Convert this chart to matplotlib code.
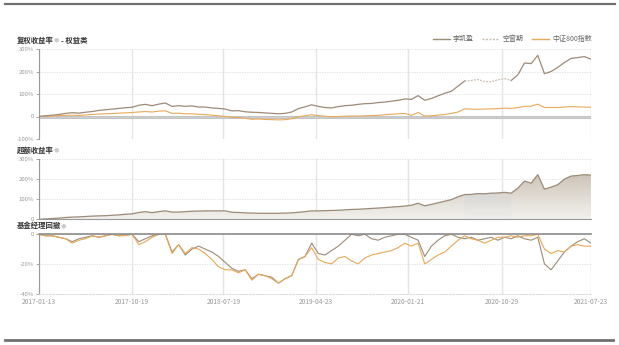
import matplotlib.pyplot as plt
import matplotlib.dates as mdates
import numpy as np
import pandas as pd
from matplotlib.colors import LinearSegmentedColormap
from matplotlib.lines import Line2D

plt.rcParams['font.family'] = ['Noto Sans CJK SC', 'DejaVu Sans']

# sample dates, evenly spaced over the manager's tenure
dates = pd.date_range('2017-01-13', '2021-07-23', periods=84)

# cumulative return of the manager (%)
manager_ret = [0, 3, 6, 9, 14, 17, 15, 19, 22, 27, 30, 33, 36, 39, 41, 50, 54, 48, 55, 60,
               45, 48, 45, 47, 42, 42, 38, 36, 33, 25, 26, 21, 19, 18, 16, 14, 12, 14, 20, 35,
               43, 52, 45, 40, 38, 44, 48, 50, 54, 57, 58, 62, 64, 68, 72, 78, 76, 93, 72, 80,
               92, 103, 112, 135, 158, 160, 165, 155, 155, 163, 168, 160, 185, 238, 235, 272, 190, 200, 218, 240,
               258, 262, 266, 255]
# CSI 800 cumulative return (%)
index_ret = [0, 1, 2, 4, 5, 6, 5, 7, 9, 11, 12, 13, 15, 16, 18, 20, 22, 20, 24, 25,
             14, 15, 12, 12, 10, 8, 6, 3, 0, -4, -5, -8, -12, -11, -13, -14, -15, -14, -10, -1,
             3, 8, 4, 1, -1, 0, 1, 2, 2, 3, 4, 5, 8, 10, 12, 14, 5, 18, 2, 3,
             6, 9, 14, 20, 34, 33, 32, 33, 34, 35, 37, 36, 40, 45, 46, 55, 40, 40, 40, 42,
             44, 43, 42, 41]
# excess return (%)
excess_ret = [0, 2, 4, 6, 9, 11, 12, 14, 16, 17, 18, 20, 22, 25, 27, 34, 38, 33, 38, 42,
              36, 36, 38, 40, 41, 42, 42, 42, 42, 35, 34, 32, 31, 30, 30, 30, 30, 31, 32, 35,
              38, 42, 42, 43, 44, 45, 47, 49, 50, 52, 54, 56, 58, 61, 63, 66, 70, 80, 67, 74,
              82, 90, 98, 112, 123, 124, 128, 127, 130, 131, 134, 130, 155, 190, 180, 222, 150, 160, 172, 200,
              215, 218, 222, 220]
# drawdowns (%)
manager_dd = [0, -1, -1, -2, -3, -5, -3, -2, -1, -2, -1, 0, -1, 0, 0, -5, -3, -1, 0, 0,
              -12, -7, -14, -10, -8, -10, -12, -15, -19, -23, -25, -24, -30, -27, -28, -29, -33, -30, -28, -17,
              -15, -6, -13, -14, -11, -8, -4, 0, -1, 0, -3, -4, -2, -1, 0, 0, -2, -4, -15, -8,
              -4, -1, 0, -2, -3, -2, -4, -3, -2, -4, -2, -3, -1, -3, -4, -2, -20, -24, -18, -12,
              -8, -5, -3, -6]
index_dd = [0, -1, -1, -2, -3, -6, -4, -3, -1, -2, -1, 0, -1, -1, 0, -7, -5, -2, 0, 0,
            -13, -7, -13, -9, -10, -13, -17, -22, -24, -24, -26, -24, -31, -27, -28, -30, -33, -30, -28, -17,
            -15, -9, -17, -19, -20, -16, -15, -18, -20, -16, -14, -13, -12, -11, -9, -6, -8, -6, -20, -17,
            -14, -12, -8, -4, -1, -3, -4, -6, -4, -2, -2, -1, -2, -1, -1, 0, -10, -13, -11, -12,
            -8, -7, -8, -8]

gap_start, gap_end = pd.Timestamp('2020-06-25'), pd.Timestamp('2020-11-30')
xtick_dates = ['2017-01-13', '2017-10-19', '2018-07-19', '2019-04-23',
               '2020-01-21', '2020-10-29', '2021-07-23']

c_mgr = '#9c8b78'
c_gap = '#c9c0b4'
c_idx = '#e8a85a'
W, H = 619, 345

fig = plt.figure(figsize=(W / 100, H / 100), dpi=100)


def px_axes(left, top, right, bottom):
    return fig.add_axes([left / W, 1 - bottom / H, (right - left) / W, (bottom - top) / H])


def style(ax, ticks, labels, lim):
    ax.set_xlim(dates[0], dates[-1])
    ax.set_ylim(*lim)
    ax.set_yticks(ticks)
    ax.set_yticklabels(labels)
    for s in ['top', 'right', 'bottom']:
        ax.spines[s].set_visible(False)
    ax.spines['left'].set_color('#999999')
    ax.spines['left'].set_linewidth(0.8)
    ax.grid(axis='y', linestyle=(0, (1.5, 1.5)), color='#dddddd', linewidth=0.6)
    for d in xtick_dates:
        ax.axvline(pd.Timestamp(d), color='#e4e4e4', linewidth=1.0, zorder=0)
    ax.set_xticks([pd.Timestamp(d) for d in xtick_dates])
    ax.tick_params(axis='y', labelsize=4.3, colors='#999999', length=2.5, width=0.6, pad=1)
    ax.tick_params(axis='x', length=0, labelbottom=False)


manager_ret = np.array(manager_ret, dtype=float)
in_gap = (dates >= gap_start) & (dates <= gap_end)
inner_gap = (dates > dates[in_gap][0]) & (dates < dates[in_gap][-1])
solid = np.where(inner_gap, np.nan, manager_ret)
dotted = np.where(in_gap, manager_ret, np.nan)

# panel 1: cumulative returns
ax1 = px_axes(39, 49, 591, 139)
style(ax1, [-100, 0, 100, 200, 300], ['-100%', '0', '100%', '200%', '300%'], (-100, 300))
ax1.axhline(0, color='#c4c4c4', linewidth=2.2, zorder=1)
ax1.plot(dates, index_ret, color=c_idx, linewidth=0.8, zorder=3)
ax1.plot(dates, solid, color=c_mgr, linewidth=0.9, zorder=4)
ax1.plot(dates, dotted, color=c_gap, linewidth=0.9, linestyle=(0, (1.5, 1)), zorder=4)

# panel 2: excess return with gradient area
ax2 = px_axes(39, 159, 591, 219.3)
style(ax2, [0, 100, 200, 300], ['0', '100%', '200%', '300%'], (0, 300))
ax2.spines['bottom'].set_visible(True)
ax2.spines['bottom'].set_color('#999999')
ax2.spines['bottom'].set_linewidth(0.8)
x0, x1 = mdates.date2num(dates[0]), mdates.date2num(dates[-1])
top = max(excess_ret)
grad = np.linspace(1, 0, 256).reshape(-1, 1)
cmap = LinearSegmentedColormap.from_list('area', ['#f3f1ee', '#cdc4b8'])
poly = ax2.fill_between(dates, excess_ret, 0, color='none', linewidth=0)
im = ax2.imshow(grad, extent=[x0, x1, 0, top], aspect='auto', cmap=cmap, zorder=2, origin='upper')
im.set_clip_path(poly.get_paths()[0], transform=ax2.transData)
# darker band under the vacancy period
cmap_gap = LinearSegmentedColormap.from_list('gap', ['#eeeeec', '#c8c4bf'])
gap_poly = ax2.fill_between(dates[in_gap], np.array(excess_ret)[in_gap], 0, color='none', linewidth=0)
im2 = ax2.imshow(grad, extent=[x0, x1, 0, top], aspect='auto', cmap=cmap_gap, zorder=2.5, origin='upper')
im2.set_clip_path(gap_poly.get_paths()[0], transform=ax2.transData)
ax2.plot(dates, excess_ret, color=c_mgr, linewidth=0.9, zorder=4)

# panel 3: drawdowns
ax3 = px_axes(39, 234.3, 591, 293.5)
style(ax3, [-40, -20, 0], ['-40%', '-20%', '0'], (-40, 0))
ax3.axhline(0, color='#8c8c8c', linewidth=1.2, zorder=5, clip_on=False)
ax3.plot(dates, manager_dd, color=c_mgr, linewidth=0.8, zorder=3)
ax3.plot(dates, index_dd, color=c_idx, linewidth=0.8, zorder=4)
ax3.spines['bottom'].set_visible(True)
ax3.spines['bottom'].set_linestyle((0, (1.5, 1.5)))
ax3.spines['bottom'].set_color('#dddddd')
ax3.tick_params(axis='x', labelbottom=True, labelsize=4.8, colors='#999999', pad=3.5)
ax3.set_xticklabels(xtick_dates)

# panel titles
title_kw = dict(fontsize=5.3, fontweight='bold', color='#333333', va='center')
icon_kw = dict(fontsize=4.5, color='#cccccc', va='center', family='DejaVu Sans')
fig.text(17 / W, 1 - 40 / H, '复权收益率', **title_kw)
fig.text(54 / W, 1 - 40 / H, '●', **icon_kw)
fig.text(61 / W, 1 - 40 / H, '- 权益类', **title_kw)
fig.text(17 / W, 1 - 150 / H, '超额收益率', **title_kw)
fig.text(54 / W, 1 - 150 / H, '●', **icon_kw)
fig.text(17 / W, 1 - 225.5 / H, '基金经理回撤', **title_kw)
fig.text(61 / W, 1 - 225.5 / H, '●', **icon_kw)

handles = [Line2D([], [], color=c_mgr, linewidth=1),
           Line2D([], [], color=c_gap, linewidth=1, linestyle=(0, (1.5, 1))),
           Line2D([], [], color=c_idx, linewidth=1)]
fig.legend(handles, ['李凯盈', '空窗期', '中证800指数'], loc='center right',
           bbox_to_anchor=(598 / W, 1 - 39 / H), ncol=3, frameon=False, fontsize=5,
           handlelength=2.4, columnspacing=1.2, handletextpad=0.5, labelcolor='#666666')

# rules above and below the chart block
fig.add_artist(Line2D([5 / W, 615 / W], [1 - 3.5 / H] * 2, color='#707070', linewidth=1.6))
fig.add_artist(Line2D([5 / W, 613 / W], [1 - 339.5 / H] * 2, color='#707070', linewidth=2))

fig.savefig('out.png', dpi=100)
